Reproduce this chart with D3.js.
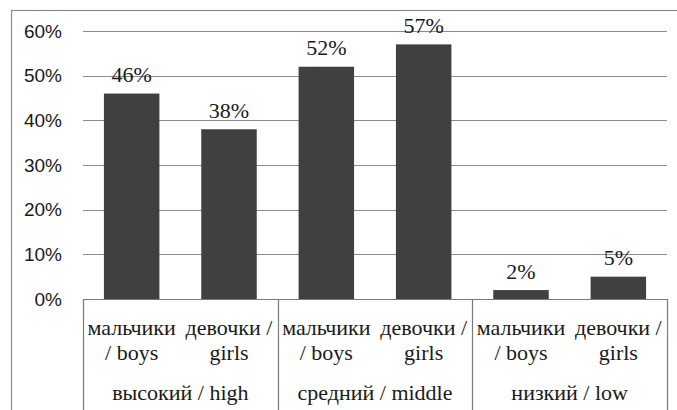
<!DOCTYPE html>
<html>
<head>
<meta charset="utf-8">
<script src="https://cdn.jsdelivr.net/npm/d3@7"></script>
<style>
  text.serif { font-family: "Liberation Serif", Tinos, "Times New Roman"; }
  text.sans { font-family: "Liberation Sans", Arimo, Arial; }
</style>
</head>
<body style="margin:0">
<svg id="chart" width="677" height="410" font-family="Liberation Serif"></svg>
<script>
// Bars: share of pupils per level, split by boys / girls
const groups = ["высокий / high", "средний / middle", "низкий / low"];
const subLabels = [["мальчики", "/ boys"], ["девочки /", "girls"]];
const values = [46, 38, 52, 57, 2, 5];
const yTicks = [0, 10, 20, 30, 40, 50, 60];

const bars = values.map((v, i) => ({
  id: i,
  group: Math.floor(i / 2),
  sub: i % 2,
  value: v
}));

const svg = d3.select("#chart");
const plot = { left: 83, right: 667, top: 31, bottom: 299 };

const x = d3.scaleBand()
  .domain(bars.map(d => d.id))
  .range([plot.left, plot.right])
  .paddingInner(0.43)
  .paddingOuter(0.215);

const y = d3.scaleLinear()
  .domain([0, 60])
  .range([plot.bottom, plot.top]);

// serif text helper: attribute + inline style + class
function serif(sel) {
  return sel.attr("class", "serif")
    .attr("font-family", "Liberation Serif")
    .style("font-family", "'Liberation Serif'")
    .attr("font-size", 22)
    .attr("fill", "#1a1a1a");
}

// outer frame
svg.append("rect")
  .attr("x", 11.5).attr("y", 10.5)
  .attr("width", 700).attr("height", 420)
  .attr("fill", "none")
  .attr("stroke", "#8a8a8a")
  .attr("stroke-width", 1.2);

// horizontal gridlines
svg.append("g")
  .selectAll("line")
  .data(yTicks.filter(t => t > 0))
  .join("line")
  .attr("x1", plot.left).attr("x2", plot.right)
  .attr("y1", d => Math.round(y(d)) + 0.5)
  .attr("y2", d => Math.round(y(d)) + 0.5)
  .attr("stroke", "#8c8c8c")
  .attr("stroke-width", 1.2);

// bars
svg.append("g")
  .selectAll("rect")
  .data(bars)
  .join("rect")
  .attr("x", d => x(d.id))
  .attr("width", x.bandwidth())
  .attr("y", d => y(d.value))
  .attr("height", d => y(0) - y(d.value))
  .attr("fill", "#404040");

// value labels
svg.append("g")
  .selectAll("text")
  .data(bars)
  .join("text")
  .attr("x", d => x(d.id) + x.bandwidth() / 2)
  .attr("y", d => y(d.value) - 11.5)
  .attr("text-anchor", "middle")
  .call(serif)
  .text(d => d.value + "%");

// category axis box: baseline and group separators
const step = x.step();
const groupEdges = [0, 1, 2, 3].map(i => plot.left + i * 2 * step);
const axisG = svg.append("g").attr("stroke", "#7a7a7a").attr("stroke-width", 1.2);
axisG.append("line")
  .attr("x1", plot.left).attr("x2", plot.right)
  .attr("y1", plot.bottom + 0.5).attr("y2", plot.bottom + 0.5);
axisG.selectAll("line.sep")
  .data(groupEdges)
  .join("line")
  .attr("class", "sep")
  .attr("x1", d => Math.round(d) + 0.5).attr("x2", d => Math.round(d) + 0.5)
  .attr("y1", plot.bottom).attr("y2", 420);

// sub-category labels (two lines each)
const subRows = [];
bars.forEach(d => {
  subLabels[d.sub].forEach((line, k) => subRows.push({ id: d.id, k, line }));
});
svg.append("g")
  .selectAll("text")
  .data(subRows)
  .join("text")
  .attr("x", d => x(d.id) + x.bandwidth() / 2)
  .attr("y", d => 335 + d.k * 25)
  .attr("text-anchor", "middle")
  .call(serif)
  .text(d => d.line);

// group labels
svg.append("g")
  .selectAll("text")
  .data(groups)
  .join("text")
  .attr("x", (d, i) => (groupEdges[i] + groupEdges[i + 1]) / 2)
  .attr("y", 400)
  .attr("text-anchor", "middle")
  .call(serif)
  .text(d => d);

// y axis labels
const yAxis = d3.axisLeft(y)
  .tickValues(yTicks)
  .tickSize(0)
  .tickPadding(0)
  .tickFormat(d => d + "%");

svg.append("g")
  .attr("transform", `translate(62,0)`)
  .call(yAxis)
  .attr("font-family", "Liberation Sans")
  .call(g => g.select(".domain").remove())
  .selectAll("text")
  .attr("class", "sans")
  .style("font-family", "'Liberation Sans'")
  .attr("font-size", 19)
  .attr("fill", "#1a1a1a");
</script>
</body>
</html>
